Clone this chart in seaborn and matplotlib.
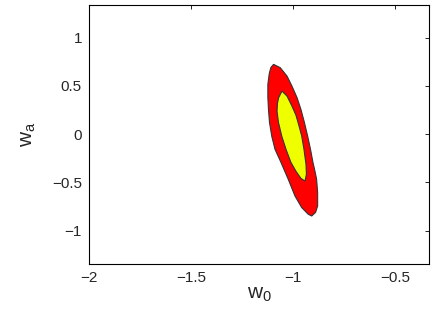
import numpy as np
import matplotlib as mpl
from matplotlib import pyplot as plt
import seaborn as sb

sb.set_theme(style="white")
plt.rcParams["font.family"] = ["Liberation Sans", "DejaVu Sans"]
mpl.rcParams.update({
    "xtick.direction": "in",
    "ytick.direction": "in",
    "xtick.major.size": 3,
    "ytick.major.size": 3,
    "xtick.major.width": 0.6,
    "ytick.major.width": 0.6,
    "axes.edgecolor": "black",
    "axes.linewidth": 0.8,
})

# Outer contour (red), outline
outer_w0 = [-1.095, -1.062, -1.029, -1.005, -0.980, -0.961, -0.944, -0.928,
            -0.914, -0.902, -0.892, -0.884, -0.879, -0.879, -0.889, -0.908,
            -0.925, -0.957, -0.990, -1.023, -1.061, -1.088, -1.104, -1.115,
            -1.120, -1.123, -1.123, -1.116, -1.108]
outer_wa = [0.722, 0.687, 0.600, 0.497, 0.377, 0.256, 0.121, -0.021,
            -0.158, -0.293, -0.386, -0.469, -0.607, -0.745, -0.811, -0.849,
            -0.831, -0.762, -0.642, -0.469, -0.283, -0.158, -0.021, 0.121,
            0.256, 0.380, 0.514, 0.628, 0.690]

# Inner contour (yellow)
inner_w0 = [-1.054, -1.029, -1.005, -0.985, -0.971, -0.957, -0.946, -0.936,
            -0.934, -0.941, -0.961, -0.985, -1.010, -1.034, -1.055, -1.071,
            -1.078, -1.076, -1.070]
inner_wa = [0.445, 0.393, 0.290, 0.194, 0.090, -0.021, -0.158, -0.314,
            -0.417, -0.487, -0.459, -0.386, -0.293, -0.158, -0.021, 0.121,
            0.235, 0.318, 0.377]

xticks = [-2, -1.5, -1, -0.5]
yticks = [-1, -0.5, 0, 0.5, 1]

fig = plt.figure(figsize=(4.36, 3.25), dpi=100)
ax = fig.add_axes([0.204, 0.188, 0.78, 0.797])

ax.fill(outer_w0, outer_wa, facecolor="#ff0000", edgecolor="#333333", linewidth=0.8)
ax.fill(inner_w0, inner_wa, facecolor="#f0ff00", edgecolor="#333333", linewidth=0.8)

ax.set_xlim(-2, -0.333)
ax.set_ylim(-1.345, 1.338)
ax.set_xticks(xticks)
ax.set_yticks(yticks)
ax.set_xticklabels(["\u22122", "\u22121.5", "\u22121", "\u22120.5"])
ax.set_yticklabels(["\u22121", "\u22120.5", "0", "0.5", "1"])
ax.tick_params(labelsize=11, top=True, right=True, color="black", pad=5)

ax.set_xlabel("w$_{\\mathregular{0}}$", fontsize=15, labelpad=0)
ax.set_ylabel("w$_{\\mathregular{a}}$", fontsize=15, labelpad=10)

plt.savefig("out.png", dpi=100)
